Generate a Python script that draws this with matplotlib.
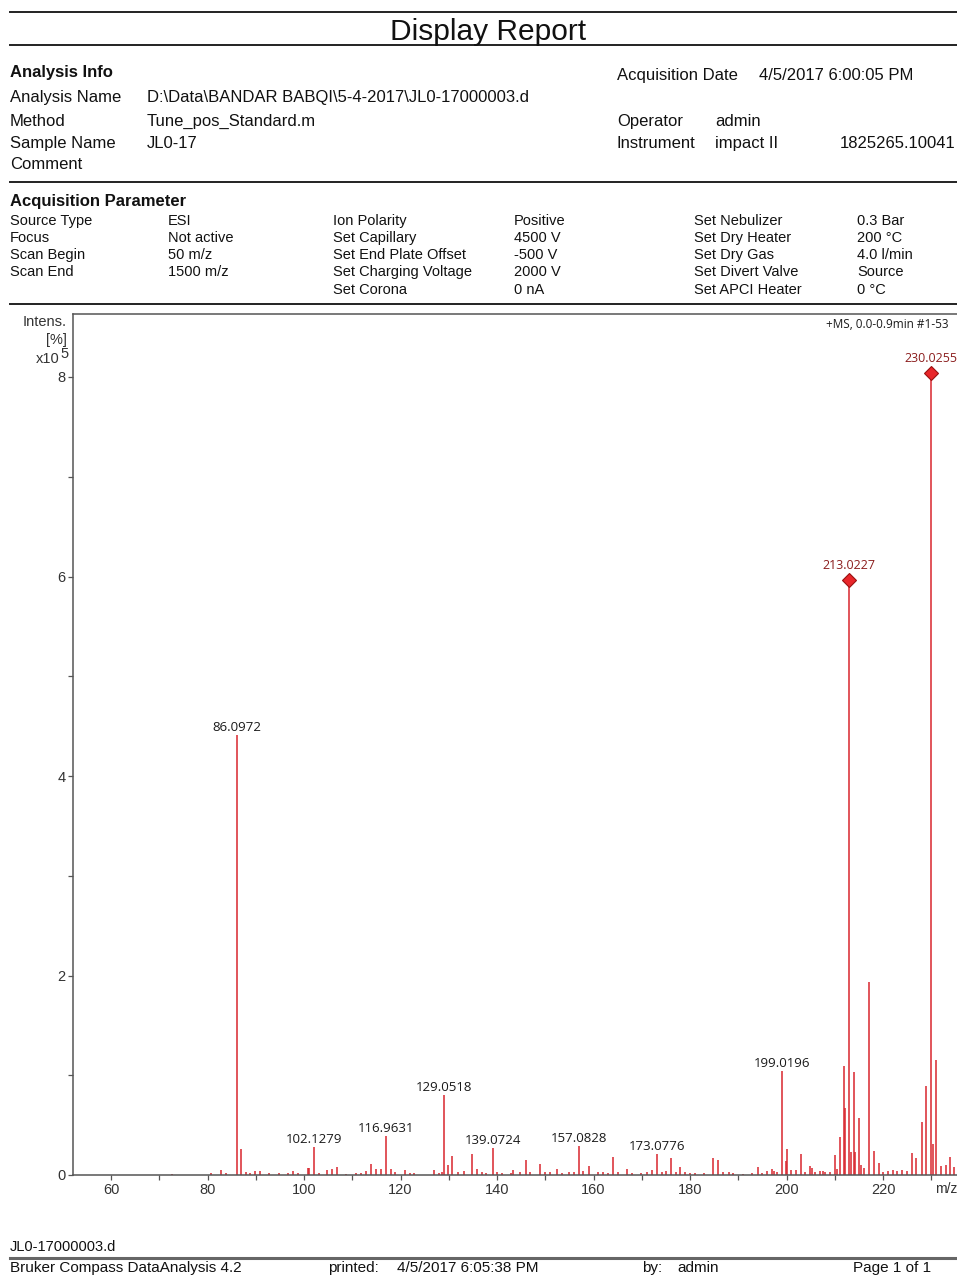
import matplotlib
matplotlib.use("Agg")
import matplotlib.pyplot as plt
from matplotlib.lines import Line2D

W, H = 957, 1276

# stick spectrum, intensities in units of 1e5
peak_mz = [72.6, 80.8, 82.8, 83.9, 86.0972, 87.0, 87.9, 88.9, 89.8, 90.8, 92.8, 94.8,
           96.7, 97.7, 98.8, 100.8, 101.0, 102.1279, 103.1, 104.8, 105.9, 106.8, 108.8,
           110.8, 111.9, 112.9, 113.9, 114.9, 115.9, 116.9631, 118.0, 118.8, 120.9, 121.9,
           122.9, 126.9, 127.9, 128.6, 129.0518, 129.9, 130.7, 131.9, 133.1, 134.8, 135.9,
           136.9, 137.8, 139.0724, 140.0, 141.0, 142.9, 143.4, 144.8, 146.1, 146.9, 148.9,
           149.9, 150.9, 152.4, 153.5, 154.9, 155.9, 157.0828, 157.9, 159.1, 160.9, 161.9,
           163.0, 164.1, 165.0, 166.9, 168.0, 169.9, 171.0, 172.1, 173.0776, 174.1, 175.0,
           176.1, 177.1, 178.0, 179.0, 180.0, 181.0, 182.9, 184.8, 185.9, 186.9, 188.0,
           189.0, 191.0, 192.9, 194.0, 195.0, 196.0, 196.9, 197.5, 198.0, 199.0196, 199.8,
           200.0, 201.0, 202.0, 203.0, 203.9, 204.9, 205.2, 206.0, 207.0, 207.5, 208.0,
           209.0, 210.0, 210.4, 211.0, 211.9, 212.1, 213.0227, 213.3, 213.9, 214.3, 215.1,
           215.4, 216.0, 217.0, 218.1, 219.1, 220.0, 221.0, 222.0, 223.0, 224.0, 225.0,
           226.1, 226.9, 228.0, 229.0, 230.0255, 230.3, 230.9, 232.1, 233.0, 233.8, 234.8,
           236.0]
peak_int = [0.01, 0.02, 0.05, 0.02, 4.41, 0.26, 0.03, 0.02, 0.04, 0.04, 0.02, 0.02,
            0.02, 0.04, 0.02, 0.07, 0.07, 0.28, 0.02, 0.05, 0.06, 0.08, 0.01,
            0.02, 0.02, 0.04, 0.11, 0.06, 0.06, 0.39, 0.06, 0.03, 0.05, 0.02,
            0.02, 0.05, 0.02, 0.03, 0.80, 0.10, 0.19, 0.03, 0.04, 0.21, 0.06,
            0.03, 0.02, 0.27, 0.03, 0.02, 0.02, 0.05, 0.03, 0.15, 0.03, 0.11,
            0.03, 0.03, 0.06, 0.02, 0.03, 0.03, 0.29, 0.04, 0.09, 0.03, 0.03,
            0.02, 0.18, 0.03, 0.06, 0.02, 0.02, 0.03, 0.05, 0.21, 0.03, 0.04,
            0.17, 0.03, 0.08, 0.03, 0.02, 0.02, 0.02, 0.17, 0.15, 0.03, 0.03,
            0.02, 0.01, 0.02, 0.08, 0.02, 0.04, 0.06, 0.04, 0.03, 1.04, 0.14,
            0.26, 0.05, 0.05, 0.21, 0.03, 0.09, 0.07, 0.03, 0.04, 0.04, 0.03,
            0.03, 0.20, 0.06, 0.38, 1.09, 0.67, 5.96, 0.23, 1.03, 0.23, 0.57,
            0.10, 0.07, 1.93, 0.24, 0.12, 0.03, 0.04, 0.05, 0.04, 0.05, 0.04,
            0.22, 0.17, 0.53, 0.89, 8.04, 0.31, 1.15, 0.09, 0.10, 0.18, 0.08,
            0.03]

label_mz = [86.0972, 102.1279, 116.9631, 129.0518, 139.0724, 157.0828, 173.0776, 199.0196]
marked_mz = [213.0227, 230.0255]

x_ticks = [60, 80, 100, 120, 140, 160, 180, 200, 220]
y_ticks = [0, 2, 4, 6, 8]

info_left = [("Analysis Name", "D:\\Data\\BANDAR BABQI\\5-4-2017\\JL0-17000003.d", 96),
             ("Method", "Tune_pos_Standard.m", 120),
             ("Sample Name", "JL0-17", 142),
             ("Comment", "", 163)]

params = [
    ["Source Type", "ESI", "Ion Polarity", "Positive", "Set Nebulizer", "0.3 Bar"],
    ["Focus", "Not active", "Set Capillary", "4500 V", "Set Dry Heater", "200 \u00b0C"],
    ["Scan Begin", "50 m/z", "Set End Plate Offset", "-500 V", "Set Dry Gas", "4.0 l/min"],
    ["Scan End", "1500 m/z", "Set Charging Voltage", "2000 V", "Set Divert Valve", "Source"],
    ["", "", "Set Corona", "0 nA", "Set APCI Heater", "0 \u00b0C"],
]
param_x = [10, 168, 333, 514, 694, 857]
param_y = [220, 237, 254, 271, 289]

PEAK = "#d8262e"
DARKRED = "#8b1d1d"
TXT = "#111111"
AX = "#333333"

plt.rcParams['font.family'] = ['Liberation Sans', 'DejaVu Sans']

fig = plt.figure(figsize=(W / 100, H / 100), dpi=100)


def fx(x):
    return x / W


def fy(y):
    return 1 - y / H


def text(x, y, s, **kw):
    # y is the middle of the capital letters; place the baseline half a cap height below
    kw.setdefault("color", TXT)
    kw.setdefault("fontsize", 12)
    cap = 0.716 * kw["fontsize"] * 100 / 72
    fig.text(fx(x), fy(y + cap / 2), s, va="baseline", **kw)


def rule(y, x0=10, x1=957, lw=1.4, color="#222222"):
    fig.add_artist(Line2D([fx(x0), fx(x1)], [fy(y), fy(y)], transform=fig.transFigure,
                          lw=lw, color=color))


# header
rule(12)
text(488, 29, "Display Report", ha="center", fontsize=21.5)
rule(45)
text(10, 71, "Analysis Info", fontweight="bold")
for name, val, y in info_left:
    text(10, y, name)
    text(147, y, val)
text(617, 74, "Acquisition Date")
text(759, 74, "4/5/2017 6:00:05 PM")
text(617, 120, "Operator")
text(715, 120, "admin")
text(617, 142, "Instrument")
text(715, 142, "impact II")
text(840, 142, "1825265.10041")
rule(182)

text(10, 200, "Acquisition Parameter", fontweight="bold")
for row, y in zip(params, param_y):
    for s, x in zip(row, param_x):
        if s:
            text(x, y, s, fontsize=10.5)
rule(304)

# spectrum axes
x_per_unit = (883 - 111) / 160
y_per_unit = (1175 - 377) / 8
ax_right = 990
ax = fig.add_axes([fx(73), fy(1175), (ax_right - 73) / W, (1175 - 314) / H])
ax.set_xlim(60 - (111 - 73) / x_per_unit, 220 + (ax_right - 883) / x_per_unit)
ax.set_ylim(0, (1175 - 314) / y_per_unit)

ax.vlines(peak_mz, 0, peak_int, color=PEAK, lw=1.1)

lookup = dict(zip(peak_mz, peak_int))
for mz in label_mz:
    ax.annotate(f"{mz:.4f}", (mz, lookup[mz]), xytext=(0, 3), textcoords="offset points",
                ha="center", va="baseline", fontsize=9.5, family="Open Sans", color="#1a1a1a")
for mz in marked_mz:
    ax.plot([mz], [lookup[mz]], marker="D", ms=7, mfc="#e8262a", mec="#9a1010", mew=0.8,
            clip_on=False, zorder=5)
    ax.annotate(f"{mz:.4f}", (mz, lookup[mz]), xytext=(0, 8), textcoords="offset points",
                ha="center", va="baseline", fontsize=9, family="Open Sans", color=DARKRED)

text(826, 324, "+MS, 0.0-0.9min #1-53", fontsize=8.5, family="Open Sans", color="#1a1a1a")

for side in ["left", "top", "bottom"]:
    ax.spines[side].set_color("#555555")
    ax.spines[side].set_linewidth(1.1)
ax.spines["right"].set_visible(False)

ax.set_xticks(x_ticks)
ax.set_xticks(range(70, 240, 20), minor=True)
ax.set_yticks(y_ticks)
ax.set_yticks([1, 3, 5, 7], minor=True)
ax.tick_params(which="both", direction="out", length=3.5, width=0.9, color="#555555",
               labelsize=10.5, labelcolor=AX)
ax.tick_params(axis="y", pad=2)
ax.tick_params(axis="x", pad=2)

text(67, 321, "Intens.", ha="right", fontsize=10.5, color=AX)
text(67, 339, "[%]", ha="right", fontsize=10.5, color=AX)
text(60, 358, "x10", ha="right", fontsize=10.5, color=AX)
text(60, 353, "5", ha="left", fontsize=10.5, color=AX)
text(935, 1188, "m/z", ha="left", fontsize=10, color=AX)

# footer
text(10, 1246, "JL0-17000003.d", fontsize=10.5)
rule(1258, lw=2.2, color="#666666")
text(10, 1267, "Bruker Compass DataAnalysis 4.2", fontsize=11)
text(328, 1267, "printed:", fontsize=11)
text(397, 1267, "4/5/2017 6:05:38 PM", fontsize=11)
text(642, 1267, "by:", fontsize=11)
text(677, 1267, "admin", fontsize=11)
text(853, 1267, "Page 1 of 1", fontsize=11)

fig.savefig("out.png", dpi=100, facecolor="white")
